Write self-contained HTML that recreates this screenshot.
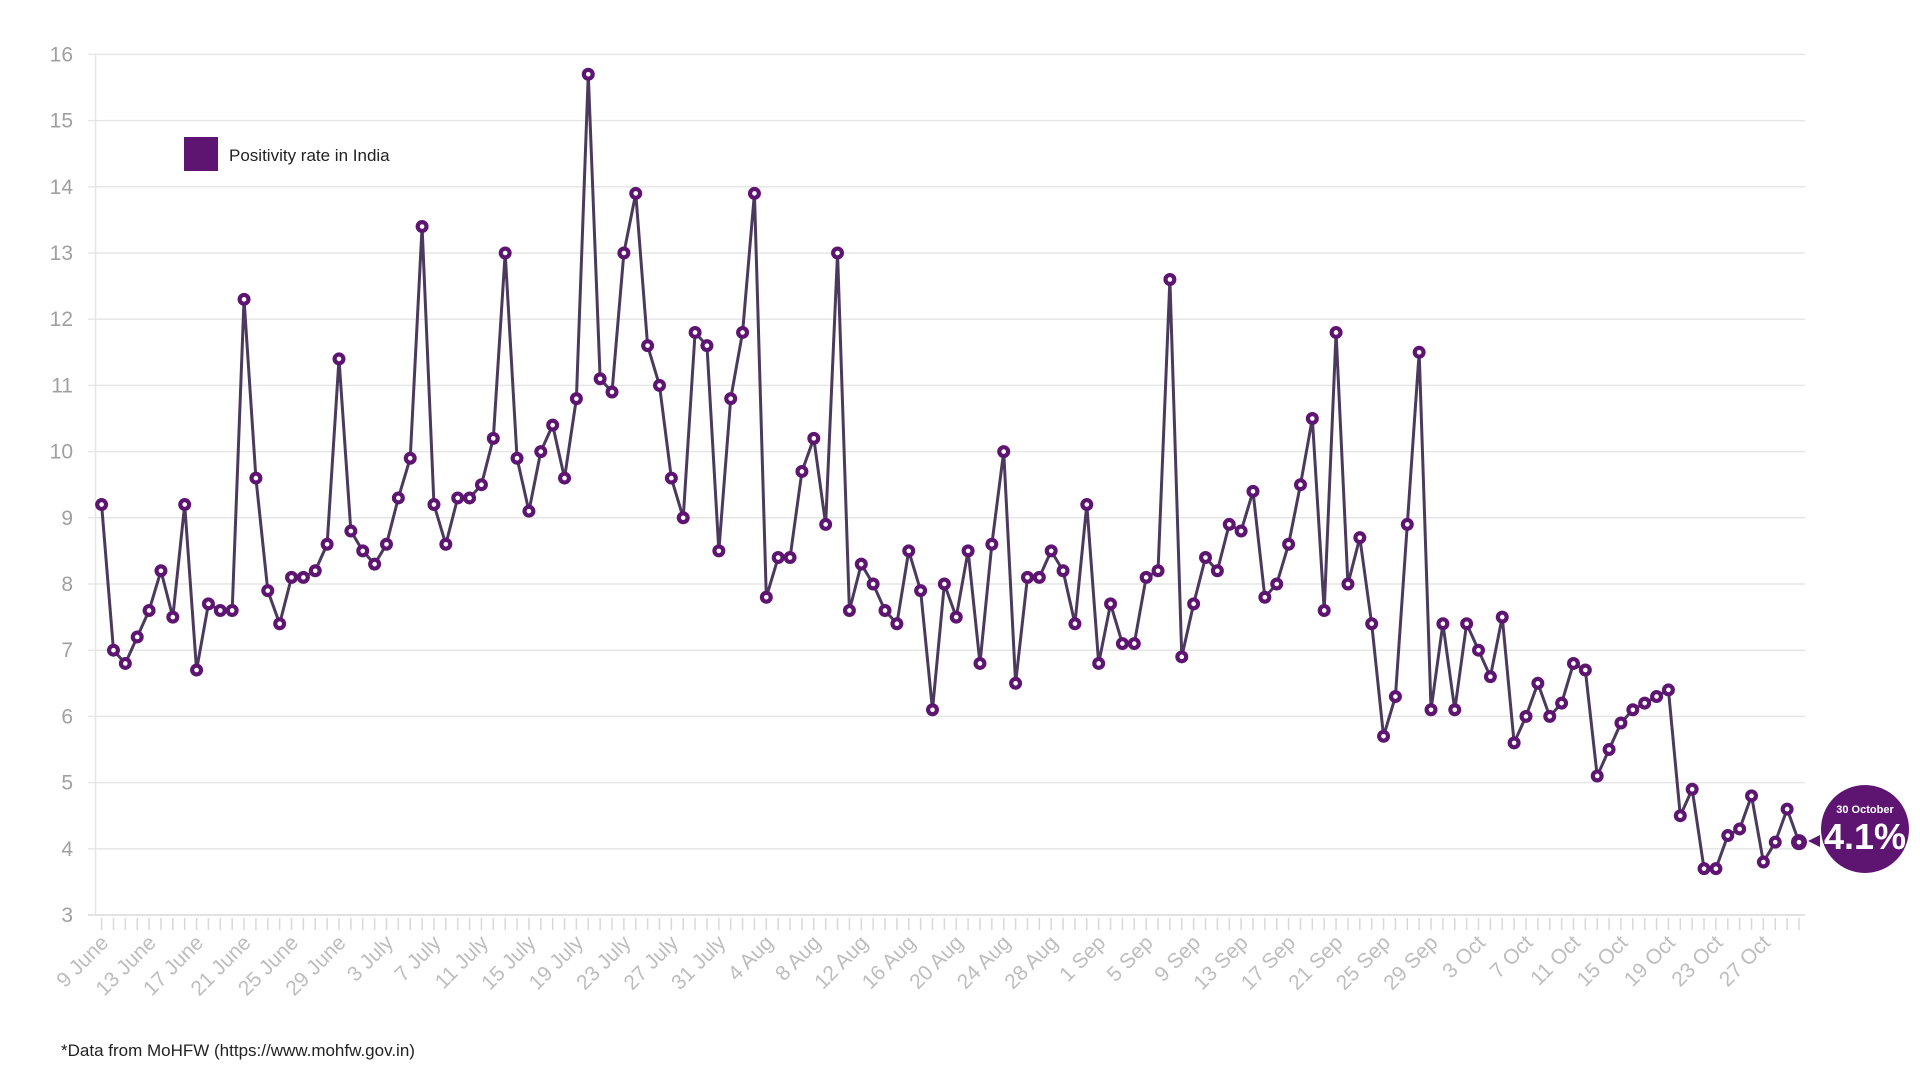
<!DOCTYPE html>
<html><head><meta charset="utf-8"><style>
html,body{margin:0;padding:0;background:#fff;}
svg{display:block;font-family:"Liberation Sans",sans-serif;}
</style></head><body>
<svg id="s" width="1920" height="1080" viewBox="0 0 1920 1080">
<g id="grid"></g>
<g id="ylab" font-size="21" fill="#a0a0a0" text-anchor="end">
<text data-v="16">16</text><text data-v="15">15</text><text data-v="14">14</text><text data-v="13">13</text>
<text data-v="12">12</text><text data-v="11">11</text><text data-v="10">10</text><text data-v="9">9</text>
<text data-v="8">8</text><text data-v="7">7</text><text data-v="6">6</text><text data-v="5">5</text>
<text data-v="4">4</text><text data-v="3">3</text>
</g>
<g id="xlab" font-size="21" fill="#bdbdbd" text-anchor="end">
<text>9 June</text><text>13 June</text><text>17 June</text><text>21 June</text><text>25 June</text><text>29 June</text>
<text>3 July</text><text>7 July</text><text>11 July</text><text>15 July</text><text>19 July</text><text>23 July</text>
<text>27 July</text><text>31 July</text><text>4 Aug</text><text>8 Aug</text><text>12 Aug</text><text>16 Aug</text>
<text>20 Aug</text><text>24 Aug</text><text>28 Aug</text><text>1 Sep</text><text>5 Sep</text><text>9 Sep</text>
<text>13 Sep</text><text>17 Sep</text><text>21 Sep</text><text>25 Sep</text><text>29 Sep</text><text>3 Oct</text>
<text>7 Oct</text><text>11 Oct</text><text>15 Oct</text><text>19 Oct</text><text>23 Oct</text><text>27 Oct</text>
</g>
<g id="data"></g>
<rect x="184" y="137" width="34" height="34" fill="#5e1572"/>
<text x="229" y="161" font-size="17" fill="#222">Positivity rate in India</text>
<polygon points="1808,841 1820,835 1820,847" fill="#5e1572"/>
<circle cx="1865" cy="829" r="44" fill="#5e1572"/>
<text x="1865" y="813" font-size="11" font-weight="bold" fill="#fff" text-anchor="middle">30 October</text>
<text x="1865" y="849" font-size="36" font-weight="bold" fill="#fff" text-anchor="middle">4.1%</text>
<text x="61" y="1056" font-size="17" fill="#222">*Data from MoHFW (https://www.mohfw.gov.in)</text>
</svg>
<script>
const d=[9.2,7.0,6.8,7.2,7.6,8.2,7.5,9.2,6.7,7.7,7.6,7.6,12.3,9.6,7.9,7.4,8.1,8.1,8.2,8.6,11.4,8.8,
8.5,8.3,8.6,9.3,9.9,13.4,9.2,8.6,9.3,9.3,9.5,10.2,13.0,9.9,9.1,10.0,10.4,9.6,10.8,15.7,11.1,10.9,13.0,13.9,11.6,11.0,9.6,9.0,11.8,11.6,8.5,
10.8,11.8,13.9,7.8,8.4,8.4,9.7,10.2,8.9,13.0,7.6,8.3,8.0,7.6,7.4,8.5,7.9,6.1,8.0,7.5,8.5,6.8,8.6,10.0,6.5,8.1,8.1,8.5,8.2,7.4,9.2,
6.8,7.7,7.1,7.1,8.1,8.2,12.6,6.9,7.7,8.4,8.2,8.9,8.8,9.4,7.8,8.0,8.6,9.5,10.5,7.6,11.8,8.0,8.7,7.4,5.7,6.3,8.9,11.5,6.1,7.4,
6.1,7.4,7.0,6.6,7.5,5.6,6.0,6.5,6.0,6.2,6.8,6.7,5.1,5.5,5.9,6.1,6.2,6.3,6.4,4.5,4.9,3.7,3.7,4.2,4.3,4.8,3.8,4.1,4.6,4.1];
const NS="http://www.w3.org/2000/svg";
const X=i=>101.6+i*(1799-101.6)/143, Y=v=>915-(v-3)*66.2;
function el(p,t,a){const e=document.createElementNS(NS,t);for(const k in a)e.setAttribute(k,a[k]);p.appendChild(e);return e;}
const g=document.getElementById('grid');
for(let v=3;v<=16;v++){el(g,'line',{x1:88,x2:1805,y1:Y(v),y2:Y(v),stroke:v==3?'#d8d8d8':'#e6e6e6','stroke-width':1.5});}
el(g,'line',{x1:95.5,x2:95.5,y1:Y(16),y2:Y(3),stroke:'#e6e6e6','stroke-width':1.5});
for(let i=0;i<144;i++){el(g,'line',{x1:X(i),x2:X(i),y1:Y(3)+3,y2:Y(3)+15,stroke:'#d8d8d8','stroke-width':1.5});}
document.querySelectorAll('#ylab text').forEach(t=>{t.setAttribute('x',73);t.setAttribute('y',Y(+t.dataset.v)+7);});
document.querySelectorAll('#xlab text').forEach((t,k)=>{const x=X(k*4)+8,y=944;t.setAttribute('x',x);t.setAttribute('y',y);t.setAttribute('transform',`rotate(-45 ${x} ${y})`);});
const dg=document.getElementById('data');
el(dg,'polyline',{points:d.map((v,i)=>X(i)+','+Y(v)).join(' '),fill:'none',stroke:'#4b3a5e','stroke-width':3,'stroke-linejoin':'round'});
d.forEach((v,i)=>{el(dg,'circle',{cx:X(i),cy:Y(v),r:i==143?8:6.5,fill:'#5e1572'});el(dg,'circle',{cx:X(i),cy:Y(v),r:2.3,fill:'#fff'});});
</script>
</body></html>
